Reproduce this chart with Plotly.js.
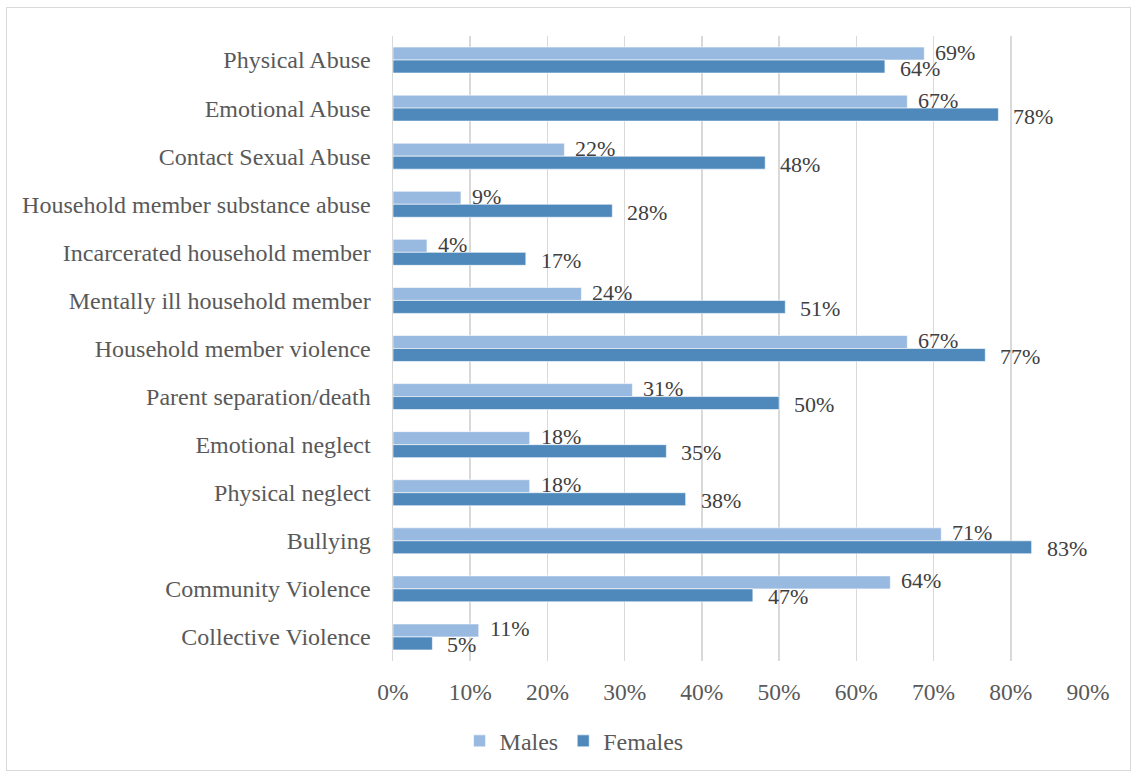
<!DOCTYPE html>
<html>
<head>
<meta charset="utf-8">
<script src="https://cdn.plot.ly/plotly-3.0.1.min.js"></script>
<style>
html,body{margin:0;padding:0;background:#fff;}
#frame{position:absolute;left:6px;top:7px;width:1125px;height:764px;border:1px solid #d9d9d9;box-sizing:border-box;}
#chart{position:absolute;left:0;top:0;width:1139px;height:777px;}
</style>
</head>
<body>
<div id="frame"></div>
<div id="chart"></div>
<script>
const categories = [
  "Physical Abuse",
  "Emotional Abuse",
  "Contact Sexual Abuse",
  "Household member substance abuse",
  "Incarcerated household member",
  "Mentally ill household member",
  "Household member violence",
  "Parent separation/death",
  "Emotional neglect",
  "Physical neglect",
  "Bullying",
  "Community Violence",
  "Collective Violence"
];
const males   = [68.8, 66.6, 22.2, 8.8, 4.4, 24.4, 66.6, 31.0, 17.7, 17.7, 71.0, 64.4, 11.1];
const females = [63.7, 78.4, 48.2, 28.4, 17.2, 50.8, 76.7, 50.0, 35.4, 37.9, 82.7, 46.6, 5.1];
const maleLabels   = ["69%","67%","22%","9%","4%","24%","67%","31%","18%","18%","71%","64%","11%"];
const femaleLabels = ["64%","78%","48%","28%","17%","51%","77%","50%","35%","38%","83%","47%","5%"];
const xTickVals = [0,10,20,30,40,50,60,70,80,90];
const xTickText = ["0%","10%","20%","30%","40%","50%","60%","70%","80%","90%"];

const serif = "Liberation Serif, Times New Roman, serif";
const labelFont = {family: serif, size: 22, color: "#404040"};

const traces = [
  {
    type: "bar", orientation: "h", name: "Males",
    y: categories, x: males,
    marker: {color: "#98b9e0", line: {color: "#ffffff", width: 0.6}}, hoverinfo: "x+y"
  },
  {
    type: "bar", orientation: "h", name: "Females",
    y: categories, x: females,
    marker: {color: "#4f89bc", line: {color: "#ffffff", width: 0.6}}, hoverinfo: "x+y"
  }
];

const annotations = [];
categories.forEach((c, i) => {
  annotations.push({
    x: males[i], y: c, xref: "x", yref: "y", text: maleLabels[i],
    showarrow: false, xanchor: "left", yanchor: "middle",
    xshift: 9, yshift: 8, font: labelFont
  });
  annotations.push({
    x: females[i], y: c, xref: "x", yref: "y", text: femaleLabels[i],
    showarrow: false, xanchor: "left", yanchor: "middle",
    xshift: 13, yshift: -8, font: labelFont
  });
});

const layout = {
  width: 1139, height: 777,
  paper_bgcolor: "rgba(0,0,0,0)", plot_bgcolor: "rgba(0,0,0,0)",
  margin: {l: 393, r: 51, t: 36, b: 116, pad: 0},
  barmode: "group", bargap: 0.46, bargroupgap: 0,
  font: {family: serif, size: 23, color: "#595959"},
  xaxis: {
    range: [0, 90], tickvals: xTickVals, ticktext: xTickText,
    showgrid: true, gridcolor: "#d9d9d9", gridwidth: 1.5,
    zeroline: false, showline: false, ticks: "", ticklen: 0,
    ticklabelstandoff: 14,
    tickfont: {family: serif, size: 23.5, color: "#595959"}, fixedrange: true
  },
  yaxis: {
    autorange: "reversed", showgrid: false, zeroline: false,
    showline: true, linecolor: "#d9d9d9", linewidth: 1.5,
    ticks: "", ticklen: 0, ticklabelstandoff: 16,
    tickfont: {family: serif, size: 24, color: "#595959"}, fixedrange: true
  },
  annotations: annotations,
  showlegend: true,
  legend: {
    orientation: "h", traceorder: "normal",
    xref: "container", yref: "container",
    x: 0.504, xanchor: "center", y: 0.046, yanchor: "middle",
    font: {family: serif, size: 24, color: "#595959"},
    itemwidth: 30, bgcolor: "rgba(0,0,0,0)"
  }
};

Plotly.newPlot("chart", traces, layout, {displayModeBar: false, staticPlot: true});
</script>
</body>
</html>
